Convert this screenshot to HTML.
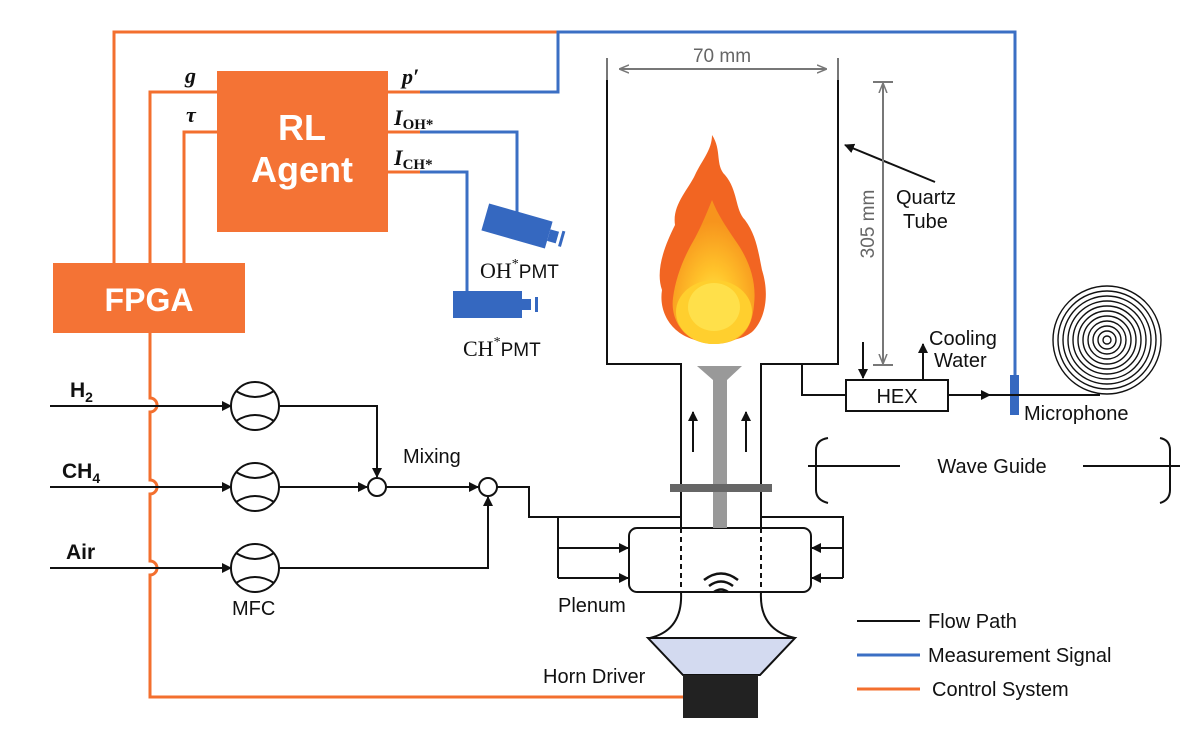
<!DOCTYPE html>
<html><head><meta charset="utf-8"><style>html,body{margin:0;padding:0;background:#fff}svg{display:block}</style></head><body>
<svg width="1200" height="729" viewBox="0 0 1200 729" xmlns="http://www.w3.org/2000/svg" font-family="Liberation Sans, sans-serif">
<defs>
<marker id="ah" markerWidth="10" markerHeight="10" refX="9" refY="5" orient="auto" markerUnits="userSpaceOnUse"><path d="M0,0 L10,5 L0,10 z" fill="#111"/></marker>
<marker id="ag" markerWidth="10" markerHeight="10" refX="9" refY="5" orient="auto" markerUnits="userSpaceOnUse"><path d="M0,1 L10,5 L0,9" fill="none" stroke="#777" stroke-width="1.5"/></marker>
<radialGradient id="fg" cx="0.5" cy="0.75" r="0.6"><stop offset="0" stop-color="#ffe94a"/><stop offset="0.45" stop-color="#ffc22a"/><stop offset="1" stop-color="#f7941d"/></radialGradient>
</defs>
<g stroke="#f36f2e" stroke-width="3" fill="none">
<path d="M114,263 V32 H558"/>
<path d="M150,263 V92 H217"/>
<path d="M184,263 V132 H217"/>
<path d="M388,92 H420 M388,132 H420 M388,172 H420"/>
<path d="M150,333 V398 a7,7 0 0 1 0,14 V480 a7,7 0 0 1 0,14 V561 a7,7 0 0 1 0,14 V697 H683"/>
</g>
<rect x="217" y="71" width="171" height="161" fill="#f47335"/>
<rect x="53" y="263" width="192" height="70" fill="#f47335"/>
<text x="302" y="140" fill="#fff" font-size="36" font-weight="bold" text-anchor="middle">RL</text>
<text x="302" y="182" fill="#fff" font-size="36" font-weight="bold" text-anchor="middle">Agent</text>
<text x="149" y="311" fill="#fff" font-size="32" font-weight="bold" text-anchor="middle">FPGA</text>
<g font-family="Liberation Serif, serif" font-style="italic" font-weight="bold" font-size="22" fill="#111">
<text x="185" y="83">g</text><text x="186" y="122">τ</text><text x="402" y="84">p′</text>
<text x="394" y="125">I<tspan font-style="normal" font-size="15" dy="4">OH*</tspan></text>
<text x="394" y="165">I<tspan font-style="normal" font-size="15" dy="4">CH*</tspan></text>
</g>
<g stroke="#3b6fc4" stroke-width="3" fill="none">
<path d="M420,92 H558 V32 H1015 V376"/>
<path d="M420,132 H517 V212"/>
<path d="M420,172 H467 V292"/>
</g>
<g fill="#3568c0">
<g transform="translate(517,226) rotate(16)"><rect x="-33" y="-14" width="66" height="28"/><rect x="33" y="-6" width="9" height="12"/><rect x="45" y="-8" width="3" height="16"/></g>
<rect x="453" y="291" width="69" height="27"/><rect x="522" y="299" width="9" height="11"/><rect x="535" y="297" width="3" height="15"/>
<rect x="1010" y="375" width="9" height="40"/>
</g>
<g font-family="Liberation Serif, serif" font-size="22" fill="#111">
<text x="480" y="278">OH<tspan font-size="14" dy="-10">*</tspan><tspan font-family="Liberation Sans, sans-serif" font-size="19" dy="10">PMT</tspan></text>
<text x="463" y="356">CH<tspan font-size="14" dy="-10">*</tspan><tspan font-family="Liberation Sans, sans-serif" font-size="19" dy="10">PMT</tspan></text>
</g>
<g stroke="#111" stroke-width="2" fill="none">
<path d="M50,406 H231" marker-end="url(#ah)"/>
<path d="M50,487 H231" marker-end="url(#ah)"/>
<path d="M50,568 H231" marker-end="url(#ah)"/>
<circle cx="255" cy="406" r="24"/><circle cx="255" cy="487" r="24"/><circle cx="255" cy="568" r="24"/>
<path d="M236,391 Q255,403 274,391 M236,421 Q255,409 274,421"/>
<path d="M236,472 Q255,484 274,472 M236,502 Q255,490 274,502"/>
<path d="M236,553 Q255,565 274,553 M236,583 Q255,571 274,583"/>
<path d="M279,406 H377 V477" marker-end="url(#ah)"/>
<path d="M279,487 H367" marker-end="url(#ah)"/>
<circle cx="377" cy="487" r="9"/>
<path d="M386,487 H478" marker-end="url(#ah)"/>
<circle cx="488" cy="487" r="9"/>
<path d="M279,568 H488 V497" marker-end="url(#ah)"/>
<path d="M497,487 H529 V517 H681"/>
<path d="M558,517 V578"/>
<path d="M558,548 H628" marker-end="url(#ah)"/>
<path d="M558,578 H628" marker-end="url(#ah)"/>
<path d="M761,517 H843 V578"/>
<path d="M843,548 H812" marker-end="url(#ah)"/>
<path d="M843,578 H812" marker-end="url(#ah)"/>
<path d="M607,80 V364 H681 V528 M838,80 V364 H761 V528"/>
<rect x="629" y="528" width="182" height="64" rx="8"/>
<path d="M681,528 V592 M761,528 V592 M681,528 H761" stroke-dasharray="5,4"/>
<path d="M681,592 Q683,630 650,638 M761,592 Q759,630 795,638"/>
<path d="M693,452 V412" marker-end="url(#ah)"/>
<path d="M746,452 V412" marker-end="url(#ah)"/>
<path d="M704,580 Q721,567 738,580 M709,586 Q721,577 733,586 M714,592 Q721,587 728,592" stroke-width="2.5"/>
<path d="M802,364 V395 H846"/>
<rect x="846" y="380" width="102" height="31"/>
<path d="M948,395 H990" marker-end="url(#ah)"/>
<path d="M990,395 H1100"/>
<path d="M863,342 V378" marker-end="url(#ah)"/>
<path d="M923,380 V344" marker-end="url(#ah)"/>
<path d="M935,182 L845,145" marker-end="url(#ah)"/>
<path d="M828,438 Q816,440 816,450 V490 Q816,500 828,503 M1160,438 Q1170,440 1170,450 V490 Q1170,500 1160,503"/>
<path d="M808,466 H900 M1083,466 H1180"/>
<path d="M857,621 H920"/>
</g>
<path d="M857,655 H920" stroke="#3b6fc4" stroke-width="3"/>
<path d="M857,689 H920" stroke="#f36f2e" stroke-width="3"/>
<path d="M697,366 H742 L727,380 V528 H713 V380 Z" fill="#999"/>
<rect x="670" y="484" width="102" height="8" fill="#666"/>
<path d="M648,638 H795 L760,675 H683 Z" fill="#d3daf0" stroke="#111" stroke-width="2"/>
<rect x="683" y="675" width="75" height="43" fill="#222"/>
<g stroke="#777" stroke-width="2" fill="none">
<path d="M607,58 V80 M838,58 V80"/>
<path d="M620,69 H826" marker-end="url(#ag)"/><path d="M826,69 H620" marker-end="url(#ag)"/>
<path d="M873,82 H893 M873,365 H893"/>
<path d="M883,95 V84" marker-end="url(#ag)"/><path d="M883,90 V363" marker-end="url(#ag)"/>
</g>
<text x="722" y="62" font-size="19" fill="#666" text-anchor="middle">70 mm</text>
<text transform="translate(874,224) rotate(-90)" font-size="19" fill="#666" text-anchor="middle">305 mm</text>
<!-- flame -->
<path d="M712,342 C675,342 658,315 662,290 C655,270 665,245 675,225 C672,205 688,190 695,175 C702,160 712,150 712,135 C722,150 715,165 725,175 C738,190 735,210 745,220 C756,235 758,250 762,270 C770,295 765,320 752,332 C742,340 725,342 712,342 Z" fill="#f26522"/>
<path d="M714,344 C685,344 670,320 673,298 C676,275 685,255 695,238 C702,225 708,210 712,200 C718,215 725,225 735,240 C748,258 757,280 754,305 C752,330 740,344 714,344 Z" fill="url(#fg)"/>
<ellipse cx="714" cy="312" rx="38" ry="32" fill="#ffcf2e"/>
<ellipse cx="714" cy="307" rx="26" ry="24" fill="#ffe04a"/>
<g fill="none" stroke="#111" stroke-width="1.4">
<circle cx="1107" cy="340" r="54"/><circle cx="1107" cy="340" r="49"/><circle cx="1107" cy="340" r="44"/><circle cx="1107" cy="340" r="39"/><circle cx="1107" cy="340" r="34"/><circle cx="1107" cy="340" r="29"/><circle cx="1107" cy="340" r="24"/><circle cx="1107" cy="340" r="19"/><circle cx="1107" cy="340" r="14"/><circle cx="1107" cy="340" r="9"/><circle cx="1107" cy="340" r="4"/>
</g>
<g font-size="20" fill="#111">
<text x="896" y="204">Quartz</text><text x="903" y="228">Tube</text>
<text x="929" y="345">Cooling</text><text x="934" y="367">Water</text>
<text x="897" y="403" text-anchor="middle">HEX</text>
<text x="1024" y="420">Microphone</text>
<text x="992" y="473" text-anchor="middle">Wave Guide</text>
<text x="403" y="463">Mixing</text>
<text x="232" y="615">MFC</text>
<text x="558" y="612">Plenum</text>
<text x="543" y="683">Horn Driver</text>
<text x="928" y="628">Flow Path</text>
<text x="928" y="662">Measurement Signal</text>
<text x="932" y="696">Control System</text>
</g>
<g font-size="21" font-weight="bold" fill="#111">
<text x="70" y="397">H<tspan font-size="14" dy="5">2</tspan></text>
<text x="62" y="478">CH<tspan font-size="14" dy="5">4</tspan></text>
<text x="66" y="559">Air</text>
</g>
</svg>
</body></html>
